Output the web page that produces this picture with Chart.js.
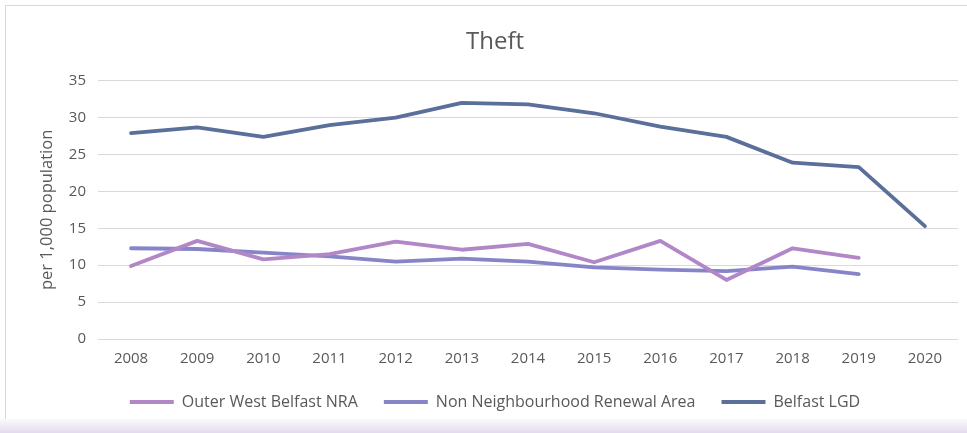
<!DOCTYPE html>
<html>
<head>
<meta charset="utf-8">
<title>Theft</title>
<script src="https://cdn.jsdelivr.net/npm/chart.js@4/dist/chart.umd.min.js"></script>
<style>
  html, body { margin: 0; padding: 0; background: #fff; }
  #wrap { position: relative; width: 967px; height: 433px; overflow: hidden; }
  #frame { position: absolute; left: 5px; top: 5px; width: 980px; height: 418px; border: 1px solid #d9d9d9; }
  #shade { position: absolute; left: 0; top: 419px; width: 967px; height: 14px;
           background: linear-gradient(#fbf9fd, #e4daee); }
  canvas { position: absolute; left: 0; top: 0; }
</style>
</head>
<body>
<div id="wrap">
  <div id="frame"></div>
  <div id="shade"></div>
  <canvas id="lineChart" width="967" height="433"></canvas>
</div>
<script>
'use strict';

// Theft rate per 1,000 population
const years = ['2008', '2009', '2010', '2011', '2012', '2013', '2014', '2015', '2016', '2017', '2018', '2019', '2020'];
const outerWestBelfast = [9.9, 13.3, 10.8, 11.5, 13.2, 12.1, 12.9, 10.4, 13.3, 8.0, 12.3, 11.0, null];
const nonNeighbourhood = [12.3, 12.2, 11.7, 11.2, 10.5, 10.9, 10.5, 9.7, 9.4, 9.2, 9.8, 8.8, null];
const belfastLGD = [27.9, 28.7, 27.4, 29.0, 30.0, 32.0, 31.8, 30.6, 28.8, 27.4, 23.9, 23.3, 15.3];
const yTicks = [0, 5, 10, 15, 20, 25, 30, 35];

const textColor = '#595959';
const fontName = "'Open Sans', 'Noto Sans', sans-serif";

function makeSeries(label, data, color) {
  return {
    label: label,
    data: data,
    borderColor: color,
    backgroundColor: color,
    borderWidth: 3.8,
    pointRadius: 0,
    tension: 0,
    borderCapStyle: 'round',
    borderJoinStyle: 'round',
    spanGaps: false
  };
}

const ctx = document.getElementById('lineChart').getContext('2d');

const myChart = new Chart(ctx, {
  type: 'line',
  data: {
    labels: years,
    datasets: [
      makeSeries('Outer West Belfast NRA', outerWestBelfast, '#b287c8'),
      makeSeries('Non Neighbourhood Renewal Area', nonNeighbourhood, '#8785c8'),
      makeSeries('Belfast LGD', belfastLGD, '#5b6f9b')
    ]
  },
  options: {
    responsive: false,
    animation: false,
    layout: {
      padding: { top: 10, left: 32, right: 9, bottom: 13 }
    },
    plugins: {
      title: {
        display: true,
        text: 'Theft',
        color: textColor,
        font: { family: fontName, size: 24, weight: 'normal' },
        padding: { top: 18, bottom: 24 }
      },
      legend: {
        position: 'bottom',
        labels: {
          color: textColor,
          font: { family: fontName, size: 16 },
          boxWidth: 44,
          boxHeight: 4,
          padding: 26,
          generateLabels: function (chart) {
            const items = Chart.defaults.plugins.legend.labels.generateLabels(chart);
            return items.map(function (item) {
              item.lineWidth = 0;
              return item;
            });
          }
        }
      },
      tooltip: { enabled: false }
    },
    scales: {
      x: {
        offset: true,
        grid: { display: false, drawTicks: false },
        border: { display: false },
        ticks: {
          color: textColor,
          font: { family: fontName, size: 15 },
          padding: 11,
          maxRotation: 0
        },
        // let the year labels sit inside the legend's top padding
        afterFit: function (scale) {
          scale.height -= 11;
        }
      },
      y: {
        min: 0,
        max: 35,
        afterBuildTicks: function (axis) {
          axis.ticks = yTicks.map(function (v) { return { value: v }; });
        },
        grid: { color: '#d9d9d9', lineWidth: 1, drawTicks: false },
        border: { display: false },
        ticks: {
          color: textColor,
          font: { family: fontName, size: 15 },
          padding: 12
        },
        title: {
          display: true,
          text: 'per 1,000 population',
          color: textColor,
          font: { family: fontName, size: 16.5 },
          padding: { top: 5, bottom: 0 }
        }
      }
    }
  }
});
</script>
</body>
</html>
